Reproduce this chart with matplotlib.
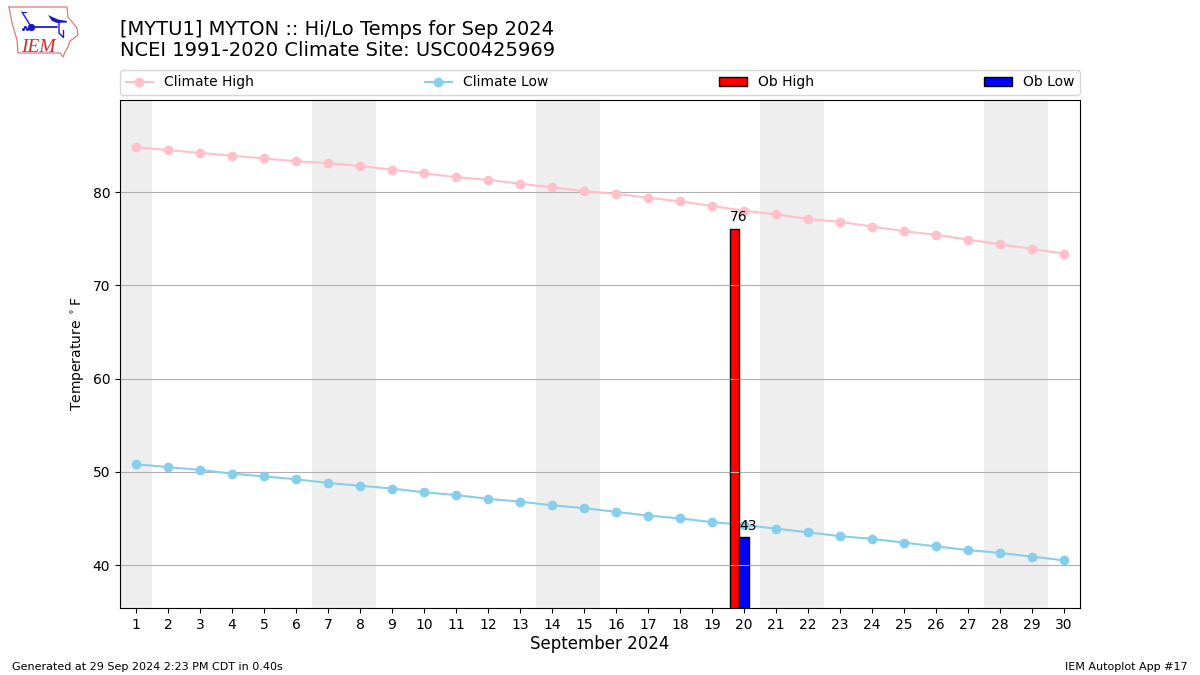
import matplotlib
matplotlib.use("Agg")
import matplotlib.pyplot as plt
from matplotlib.lines import Line2D
from matplotlib.patches import Polygon

days = list(range(1, 31))
climate_high = [84.8, 84.5, 84.2, 83.9, 83.6, 83.3, 83.1, 82.8, 82.4, 82.0,
                81.6, 81.3, 80.9, 80.5, 80.1, 79.8, 79.4, 79.0, 78.5, 78.0,
                77.6, 77.1, 76.8, 76.3, 75.8, 75.4, 74.9, 74.4, 73.9, 73.4]
climate_low = [50.8, 50.5, 50.2, 49.8, 49.5, 49.2, 48.8, 48.5, 48.2, 47.8,
               47.5, 47.1, 46.8, 46.4, 46.1, 45.7, 45.3, 45.0, 44.6, 44.3,
               43.9, 43.5, 43.1, 42.8, 42.4, 42.0, 41.6, 41.3, 40.9, 40.5]
ob_days = [20]
ob_high = [76]
ob_low = [43]
weekend_spans = [(0.5, 1.5), (6.5, 8.5), (13.5, 15.5), (20.5, 22.5), (27.5, 29.5)]
y_ticks = [40, 50, 60, 70, 80]
title_lines = ["[MYTU1] MYTON :: Hi/Lo Temps for Sep 2024",
               "NCEI 1991-2020 Climate Site: USC00425969"]

W, H = 1200, 675
BAR_W = 0.3
fig = plt.figure(figsize=(12, 6.75), dpi=100)
ax = fig.add_axes([120 / W, 1 - 608 / H, 960 / W, 508 / H])

for a, b in weekend_spans:
    ax.axvspan(a, b, color="#eeeeee", lw=0, zorder=0)
ax.grid(axis="y", color="#b0b0b0", lw=0.8)
ax.set_axisbelow("line")

l1, = ax.plot(days, climate_high, color="pink", marker="o", ms=6, lw=1.5, zorder=2, label="Climate High")
l2, = ax.plot(days, climate_low, color="skyblue", marker="o", ms=6, lw=1.5, zorder=2, label="Climate Low")
b1 = ax.bar([d - BAR_W for d in ob_days], ob_high, width=BAR_W, align="center", color="red", edgecolor="k", lw=1, zorder=3, label="Ob High")
b2 = ax.bar(ob_days, ob_low, width=BAR_W, align="center", color="blue", edgecolor="k", lw=1, zorder=3, label="Ob Low")

# the grid shows through the bars, though it stays under the climate lines
for d, hi, lo in zip(ob_days, ob_high, ob_low):
    for t in y_ticks:
        if t < hi:
            ax.hlines(t, d - 1.5 * BAR_W, d - 0.5 * BAR_W, color="#b0b0b0", lw=0.8, zorder=3.5)
        if t < lo:
            ax.hlines(t, d - 0.5 * BAR_W, d + 0.5 * BAR_W, color="#b0b0b0", lw=0.8, zorder=3.5)

for d, v in zip(ob_days, ob_high):
    ax.text(d - 1.5 * BAR_W, v + 0.85, str(v), ha="left", va="baseline", fontsize=10, zorder=5)
for d, v in zip(ob_days, ob_low):
    ax.text(d - 0.5 * BAR_W, v + 0.8, str(v), ha="left", va="baseline", fontsize=10, zorder=5)

ax.set_xlim(0.5, 30.5)
ax.set_ylim(35.39, 89.87)
ax.set_xticks(days)
ax.set_yticks(y_ticks)
ax.set_xlabel("September 2024", fontsize=12, labelpad=2.5)
ax.set_ylabel("Temperature $^\\circ$F", fontsize=10)

ax.legend(handles=[l1, l2, b1, b2], loc="lower left",
          bbox_to_anchor=(120 / W, 1 - 95 / H, 960 / W, 25 / H), bbox_transform=fig.transFigure,
          ncol=4, mode="expand", borderaxespad=0, fontsize=10, borderpad=0.4)

fig.text(120 / W, 1 - 35 / H, title_lines[0], fontsize=14, ha="left", va="baseline")
fig.text(120 / W, 1 - 56 / H, title_lines[1], fontsize=14, ha="left", va="baseline")
fig.text(12 / W, 1 - 670 / H, "Generated at 29 Sep 2024 2:23 PM CDT in 0.40s", fontsize=8, ha="left", va="baseline")
fig.text(1188 / W, 1 - 670 / H, "IEM Autoplot App #17", fontsize=8, ha="right", va="baseline")

# logo, drawn in figure pixels
def P(pts):
    return [p[0] / W for p in pts], [1 - p[1] / H for p in pts]

def logo(pts, c, lw):
    xs, ys = P(pts)
    fig.add_artist(Line2D(xs, ys, color=c, lw=lw, solid_capstyle="round"))

BLUE = "#1a1acd"
logo([(9, 7), (67, 7), (68, 17), (77, 28), (78, 35), (70, 41), (68, 47), (65, 52),
      (63, 57), (60, 53), (18, 53), (17, 40), (12, 23), (9, 7)], "#dd7a7a", 0.9)
logo([(31, 26.7), (57, 26.7)], BLUE, 1.3)
logo([(22, 12), (30, 25)], BLUE, 1.0)
logo([(22, 12), (26, 12)], BLUE, 0.8)
logo([(59, 22), (59, 33), (63, 37)], BLUE, 1.0)
logo([(63, 30), (63, 37)], BLUE, 1.0)
xs, ys = P([(48, 15), (58, 19.5), (67, 21), (67, 22.5), (57, 23), (52, 21)])
fig.add_artist(Polygon(list(zip(xs, ys)), closed=True, color=BLUE, lw=0, transform=fig.transFigure))
xs, ys = P([(31, 26.7)])
fig.add_artist(Line2D(xs, ys, color=BLUE, marker="o", ms=4.2, lw=0))
xs, ys = P([(23, 29), (25, 27), (27, 29)])
fig.add_artist(Line2D(xs, ys, color=BLUE, marker="o", ms=1.2, lw=0))
fig.text(21 / W, 1 - 52 / H, "IEM", color="#d42a2a", fontsize=14, family="Liberation Serif", style="italic", ha="left", va="baseline")

fig.savefig("out.png", dpi=100)
